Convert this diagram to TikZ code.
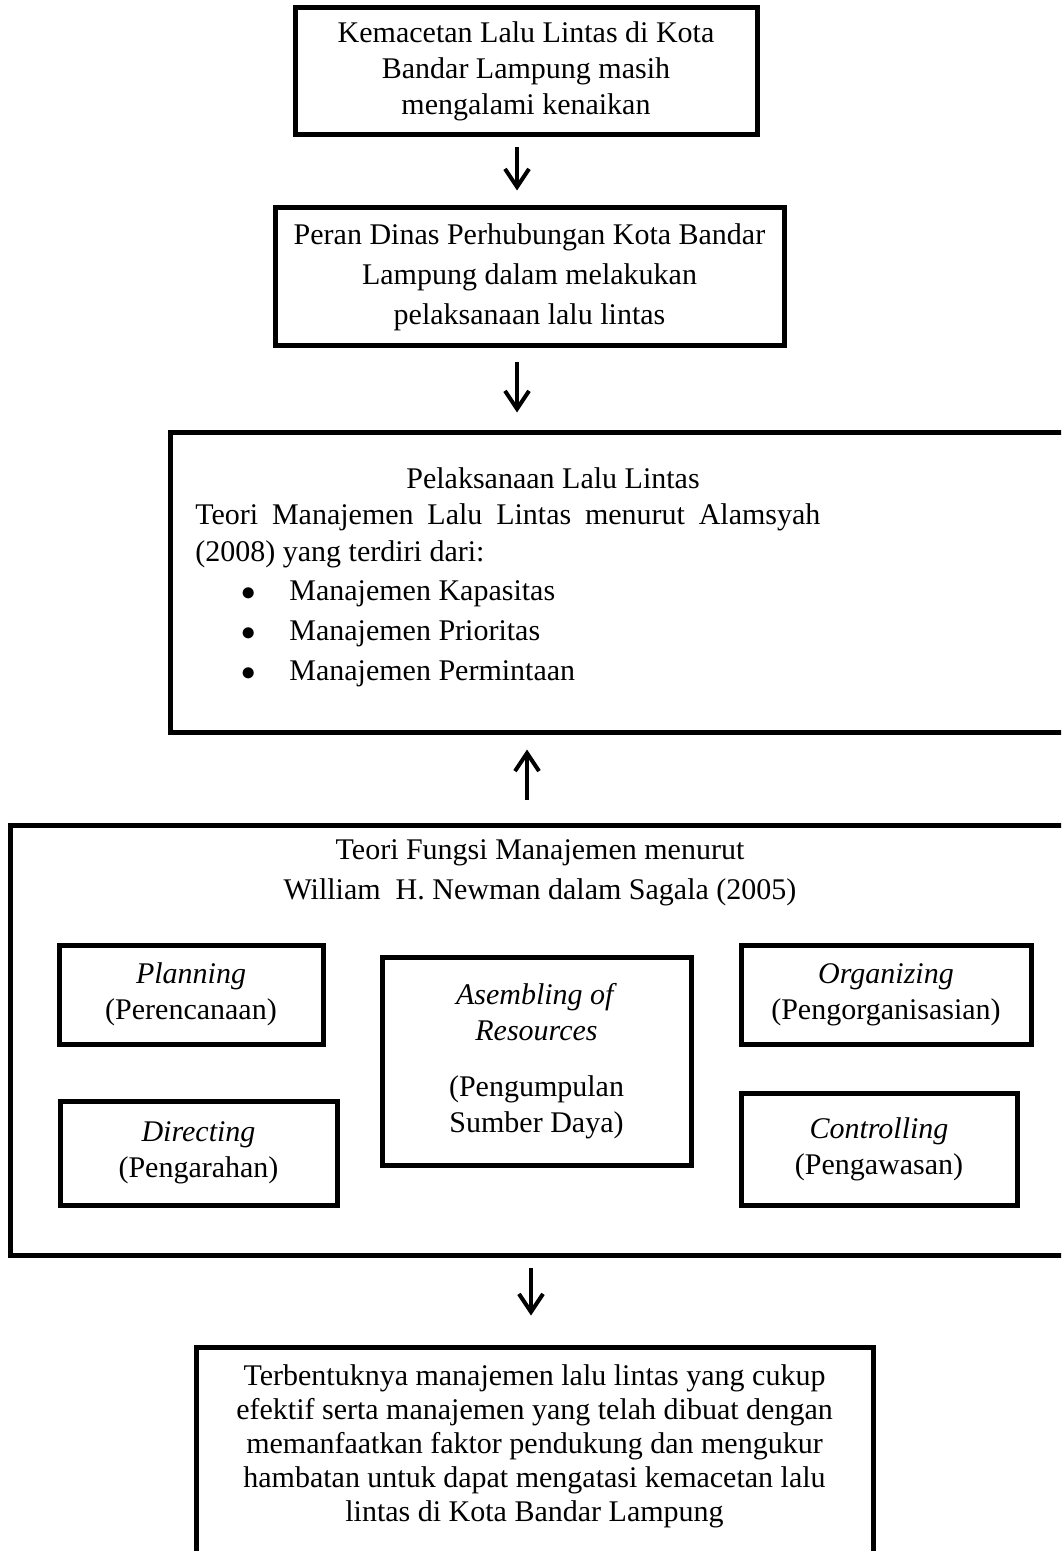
\documentclass[tikz,border=0pt]{standalone}
\usepackage{fontspec}
\setmainfont{Liberation Serif}
\usetikzlibrary{arrows.meta}

\begin{document}
\begin{tikzpicture}[x=0.5pt, y=-0.5pt, font=\fontsize{15}{18}\selectfont,
  box/.style={draw, line width=2.5pt, align=center, inner sep=0pt},
  arr/.style={line width=2pt, -{Straight Barb[length=9pt,width=12pt]}}]
  \useasboundingbox (0,0) rectangle (1061,1551);
  \clip (0,0) rectangle (1061,1551);

  % alur atas
  \node[box, minimum width=231pt, minimum height=63.5pt] (macet) at (526,71.5) {Kemacetan Lalu Lintas di Kota\\Bandar Lampung masih\\mengalami kenaikan};
  \node[box, minimum width=254.5pt, minimum height=69pt, font=\fontsize{15}{20}\selectfont] (peran) at (529.5,277) {Peran Dinas Perhubungan Kota Bandar\\Lampung dalam melakukan\\pelaksanaan lalu lintas};

  % pelaksanaan lalu lintas
  \node[box, minimum width=455pt, minimum height=150pt] (laksana) at (625,582) {};
  \node (laksanajudul) at (553,478) {Pelaksanaan Lalu Lintas};
  \node[anchor=north west, inner sep=0pt, text width=312.5pt, align=justify, font=\fontsize{15}{18.5}\selectfont] (teorilalin) at (195,503) {Teori Manajemen Lalu Lintas menurut Alamsyah\linebreak (2008) yang terdiri dari:};
  \node[anchor=north west, inner sep=0pt, align=left, font=\fontsize{15}{20}\selectfont] (jenis) at (241,580) {\makebox[24pt][l]{$\bullet$}Manajemen Kapasitas\\\makebox[24pt][l]{$\bullet$}Manajemen Prioritas\\\makebox[24pt][l]{$\bullet$}Manajemen Permintaan};

  % fungsi manajemen
  \node[box, minimum width=535pt, minimum height=215pt] (fungsi) at (545,1040) {};
  \node[font=\fontsize{15}{20}\selectfont, align=center] (fungsijudul) at (540,873) {Teori Fungsi Manajemen menurut\\William\ \ H. Newman dalam Sagala (2005)};
  \node[box, minimum width=132pt, minimum height=49.5pt] (plan) at (191,994.5) {\textit{Planning}\\(Perencanaan)};
  \node[box, minimum width=138.5pt, minimum height=52pt] (arah) at (198.5,1153) {\textit{Directing}\\(Pengarahan)};
  \node[box, minimum width=154.5pt, minimum height=104pt] (kumpul) at (536.5,1061) {\textit{Asembling of}\\\textit{Resources}\\[10pt](Pengumpulan\\Sumber Daya)};
  \node[box, minimum width=145pt, minimum height=49.5pt] (organ) at (886,994.5) {\textit{Organizing}\\(Pengorganisasian)};
  \node[box, minimum width=138pt, minimum height=56pt] (awas) at (879,1149) {\textit{Controlling}\\(Pengawasan)};

  % hasil
  \node[box, minimum width=338.5pt, minimum height=116.5pt] (hasil) at (534.5,1463.5) {};
  \node[align=center, font=\fontsize{15}{17}\selectfont] (hasiltxt) at (534.5,1446) {Terbentuknya manajemen lalu lintas yang cukup\\efektif serta manajemen yang telah dibuat dengan\\memanfaatkan faktor pendukung dan mengukur\\hambatan untuk dapat mengatasi kemacetan lalu\\lintas di Kota Bandar Lampung};

  \coordinate (xa) at (517,0);
  \coordinate (xb) at (527,0);
  \coordinate (xc) at (531,0);
  \draw[arr, shorten <=5pt, shorten >=7.5pt] (macet.south -| xa) -- (peran.north -| xa);
  \draw[arr, shorten <=7pt, shorten >=8.5pt] (peran.south -| xa) -- (laksana.north -| xa);
  \draw[arr, shorten <=11.5pt, shorten >=7.5pt] (fungsi.north -| xb) -- (laksana.south -| xb);
  \draw[arr, shorten <=5pt, shorten >=14.5pt] (fungsi.south -| xc) -- (hasil.north -| xc);
\end{tikzpicture}
\end{document}
